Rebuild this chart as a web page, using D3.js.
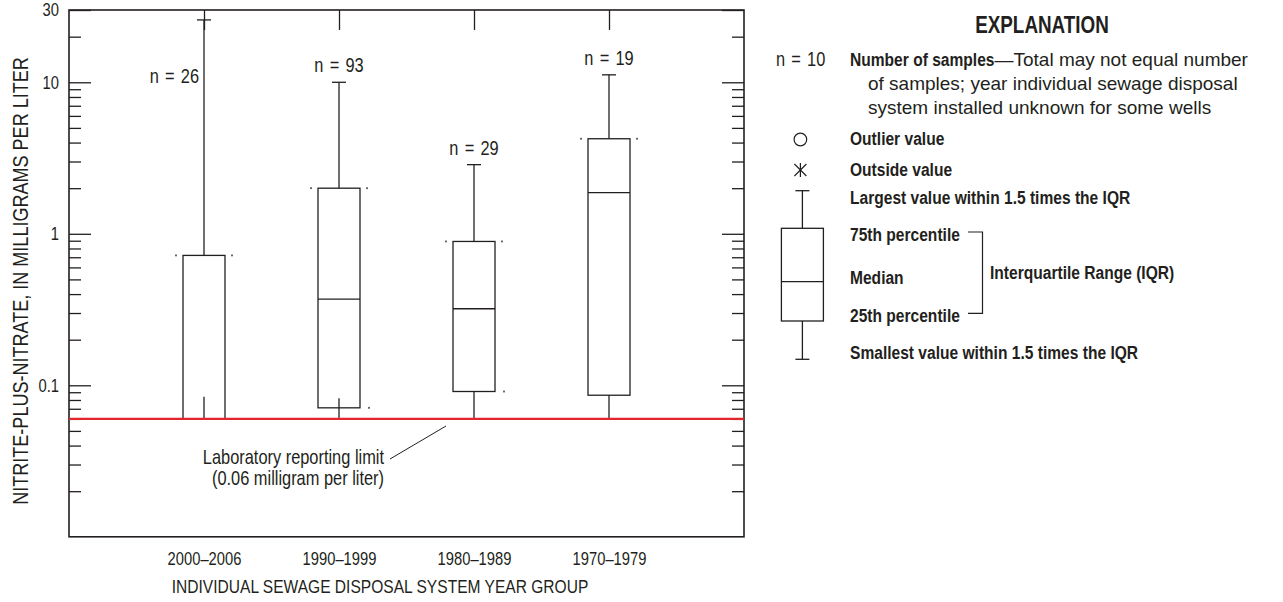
<!DOCTYPE html>
<html>
<head>
<meta charset="utf-8">
<script src="https://cdn.jsdelivr.net/npm/d3@7"></script>
<style>
  html, body { margin: 0; padding: 0; background: #fff; }
  svg { display: block; }
</style>
</head>
<body>
<svg id="chart" width="1283" height="602"></svg>
<script>
// ---------------- DATA ----------------
const categories = ["2000\u20132006", "1990\u20131999", "1980\u20131989", "1970\u20131979"];
const nSamples = [26, 93, 29, 19];
const upperWhisker = [25.8, 10.0, 2.86, 11.2];
const q3 = [0.72, 2.0, 0.89, 4.24];
const median = [null, 0.37, 0.32, 1.87];
const q1 = [0.06, 0.071, 0.091, 0.086];
const lowStemTop = [0.084, 0.082, 0.091, 0.086];
const lowerWhisker = [0.06, 0.06, 0.06, 0.06];
const q1RightDot = [false, true, true, false];
const reportingLimit = 0.06;

const yDomain = [0.01, 30];
const yMajorTicks = [30, 10, 1, 0.1];
const yMajorLabels = ["30", "10", "1", "0.1"];
const yMinorTicks = [20, 9, 8, 7, 6, 5, 4, 3, 2,
                     0.9, 0.8, 0.7, 0.6, 0.5, 0.4, 0.3, 0.2,
                     0.09, 0.08, 0.07, 0.06, 0.05, 0.04, 0.03, 0.02];

const yTitle = "NITRITE-PLUS-NITRATE, IN MILLIGRAMS PER LITER";
const xTitle = "INDIVIDUAL SEWAGE DISPOSAL SYSTEM YEAR GROUP";

// ---------------- STYLE ----------------
const SANS = "'Liberation Sans',Arial,sans-serif";
const NS = 0.82; // horizontal squeeze to emulate a narrow face
const INK = "#231f20";
const RED = "#e3262b";

const svg = d3.select("#chart");
const L = 69, R = 744, T = 10, B = 536.8;

// narrow text helper
function ntext(parent, x, y, str, opts = {}) {
  const t = parent.append("text")
    .attr("transform", `translate(${x},${y})${opts.rotate ? " rotate(" + opts.rotate + ")" : ""} scale(${NS},1)`)
    .attr("fill", INK)
    .attr("text-anchor", opts.anchor || "start")
    .style("font-family", SANS)
    .style("font-size", (opts.size || 19) + "px")
    .style("font-weight", opts.bold ? "bold" : "normal")
    .text(str);
  if (opts.ws) t.style("word-spacing", opts.ws + "px");
  return t;
}

const y = d3.scaleLog().domain(yDomain).range([B, T]);
const x = d3.scalePoint().domain(categories).range([L, R]).padding(1);

// Left axis major
const gLeft = svg.append("g").attr("transform", `translate(${L},0)`);
gLeft.call(d3.axisLeft(y).tickValues(yMajorTicks)
  .tickFormat((d, i) => yMajorLabels[i]).tickSizeInner(-22).tickSizeOuter(0).tickPadding(10));
gLeft.call(g => g.select(".domain").remove());
const gLeftMinor = svg.append("g").attr("transform", `translate(${L},0)`);
gLeftMinor.call(d3.axisLeft(y).tickValues(yMinorTicks).tickFormat("").tickSizeInner(-12).tickSizeOuter(0));
gLeftMinor.call(g => g.select(".domain").remove());

// Right axis
const gRight = svg.append("g").attr("transform", `translate(${R},0)`);
gRight.call(d3.axisRight(y).tickValues(yMajorTicks).tickFormat("").tickSizeInner(-22).tickSizeOuter(0));
gRight.call(g => g.select(".domain").remove());
const gRightMinor = svg.append("g").attr("transform", `translate(${R},0)`);
gRightMinor.call(d3.axisRight(y).tickValues(yMinorTicks).tickFormat("").tickSizeInner(-12).tickSizeOuter(0));
gRightMinor.call(g => g.select(".domain").remove());

// Top ticks
const gTop = svg.append("g").attr("transform", `translate(0,${T})`);
gTop.call(d3.axisTop(x).tickFormat("").tickSizeInner(-20).tickSizeOuter(0));
gTop.call(g => g.select(".domain").remove());

// Bottom labels
const gBottom = svg.append("g").attr("transform", `translate(0,${B})`);
gBottom.call(d3.axisBottom(x).tickSize(0));
gBottom.call(g => g.select(".domain").remove());
gBottom.selectAll("text").attr("y", 28).attr("dy", 0);

svg.selectAll(".tick line").attr("stroke", INK).attr("stroke-width", 1.3);
svg.selectAll(".tick text").each(function () {
  const t = d3.select(this);
  const tx = +t.attr("x") || 0;
  t.attr("x", tx / NS).attr("transform", `scale(${NS},1)`);
}).attr("fill", INK).style("font-family", SANS).style("font-size", "18px");

// Frame
svg.append("rect").attr("x", L).attr("y", T).attr("width", R - L).attr("height", B - T)
  .attr("fill", "none").attr("stroke", INK).attr("stroke-width", 1.6);

// Boxes
const bw = 42, cap = 14;
const gBox = svg.append("g").attr("stroke", INK).attr("stroke-width", 1.3).attr("fill", "none");
categories.forEach((c, i) => {
  const cx = x(c);
  gBox.append("rect").attr("x", cx - bw / 2).attr("y", y(q3[i]))
    .attr("width", bw).attr("height", y(q1[i]) - y(q3[i])).attr("fill", "#fff");
  if (median[i] != null) {
    gBox.append("line").attr("x1", cx - bw / 2).attr("x2", cx + bw / 2)
      .attr("y1", y(median[i])).attr("y2", y(median[i]));
  }
  gBox.append("line").attr("x1", cx).attr("x2", cx).attr("y1", y(q3[i])).attr("y2", y(upperWhisker[i]));
  gBox.append("line").attr("x1", cx - cap / 2).attr("x2", cx + cap / 2)
    .attr("y1", y(upperWhisker[i])).attr("y2", y(upperWhisker[i]));
  gBox.append("line").attr("x1", cx).attr("x2", cx).attr("y1", y(lowStemTop[i])).attr("y2", y(lowerWhisker[i]));
  const dots = [[cx - bw / 2 - 7, y(q3[i])], [cx + bw / 2 + 7, y(q3[i])]];
  if (q1RightDot[i]) dots.push([cx + bw / 2 + 9, y(q1[i])]);
  dots.forEach(p => svg.append("rect").attr("x", p[0] - 0.9).attr("y", p[1] - 0.9)
    .attr("width", 1.8).attr("height", 1.8).attr("fill", "#555"));
  const label = `n = ${nSamples[i]}`;
  if (y(upperWhisker[i]) < y(10) - 30) {
    ntext(svg, cx - 5, y(10) + 1, label, { size: 20, anchor: "end", ws: 2 });
  } else {
    ntext(svg, cx, y(upperWhisker[i]) - 10, label, { size: 20, anchor: "middle", ws: 2 });
  }
});

// Reporting limit line
svg.append("line").attr("x1", L).attr("x2", R).attr("y1", y(reportingLimit)).attr("y2", y(reportingLimit))
  .attr("stroke", RED).attr("stroke-width", 2.2);

// Reporting limit annotation
ntext(svg, 384, 464, "Laboratory reporting limit", { size: 20, anchor: "end" });
ntext(svg, 384, 485, "(0.06 milligram per liter)", { size: 20, anchor: "end" });
svg.append("line").attr("x1", 390).attr("y1", 459).attr("x2", 446).attr("y2", 426)
  .attr("stroke", INK).attr("stroke-width", 1);

// Axis titles
ntext(svg, 27.5, 281, yTitle, { size: 22, anchor: "middle", rotate: -90 });
ntext(svg, 380, 593, xTitle, { size: 19, anchor: "middle" });

// ---------------- EXPLANATION ----------------
const lg = svg.append("g");
const bold = (t, xx, yy, size, anchor) => ntext(lg, xx, yy, t, { size: size || 19, bold: true, anchor });

bold("EXPLANATION", 1042, 33, 23, "middle");

ntext(lg, 776, 65.7, "n = 10", { size: 20, ws: 2 });
const nb = bold("Number of samples", 850, 65.7);
const nbw = nb.node().getComputedTextLength() * NS;
lg.append("text").attr("x", 850 + nbw).attr("y", 65.7).attr("fill", INK)
  .style("font-family", SANS).style("font-size", "19px").text("\u2014Total may not equal number");
lg.append("text").attr("x", 868).attr("y", 90).attr("fill", INK)
  .style("font-family", SANS).style("font-size", "19px").text("of samples; year individual sewage disposal");
lg.append("text").attr("x", 868).attr("y", 113.5).attr("fill", INK)
  .style("font-family", SANS).style("font-size", "19px").text("system installed unknown for some wells");

const sx = 802.4;
lg.append("circle").attr("cx", sx - 2).attr("cy", 139.5).attr("r", 6.3)
  .attr("fill", "none").attr("stroke", INK).attr("stroke-width", 1.2);
bold("Outlier value", 850, 145);
const xs = lg.append("g").attr("stroke", INK).attr("stroke-width", 1.2);
xs.append("line").attr("x1", sx - 8).attr("y1", 164).attr("x2", sx + 4).attr("y2", 176);
xs.append("line").attr("x1", sx - 8).attr("y1", 176).attr("x2", sx + 4).attr("y2", 164);
xs.append("line").attr("x1", sx - 2).attr("y1", 163).attr("x2", sx - 2).attr("y2", 177);
bold("Outside value", 850, 176);

const lb = lg.append("g").attr("stroke", INK).attr("stroke-width", 1.3).attr("fill", "none");
lb.append("line").attr("x1", sx).attr("x2", sx).attr("y1", 190.7).attr("y2", 228.3);
lb.append("line").attr("x1", sx - 7).attr("x2", sx + 7).attr("y1", 190.7).attr("y2", 190.7);
lb.append("rect").attr("x", sx - 21).attr("y", 228.3).attr("width", 42).attr("height", 321 - 228.3);
lb.append("line").attr("x1", sx - 21).attr("x2", sx + 21).attr("y1", 281.7).attr("y2", 281.7);
lb.append("line").attr("x1", sx).attr("x2", sx).attr("y1", 321).attr("y2", 359.3);
lb.append("line").attr("x1", sx - 7).attr("x2", sx + 7).attr("y1", 359.3).attr("y2", 359.3);
lb.append("path").attr("d", "M968,232 H982.5 V313.3 H968").attr("stroke-width", 1.2);

bold("Largest value within 1.5 times the IQR", 850, 204);
bold("75th percentile", 850, 241);
bold("Median", 850, 284);
bold("25th percentile", 850, 322);
bold("Smallest value within 1.5 times the IQR", 850, 358.5);
bold("Interquartile Range (IQR)", 990, 279);
</script>
</body>
</html>
